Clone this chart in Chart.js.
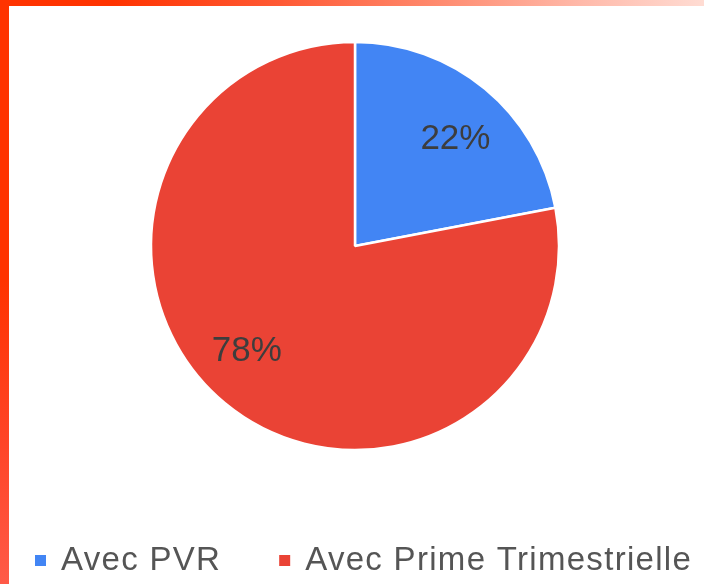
<!DOCTYPE html>
<html>
<head>
<meta charset="utf-8">
<script src="https://cdn.jsdelivr.net/npm/chart.js@4"></script>
<style>
  html, body { margin: 0; padding: 0; background: #ffffff; }
  body { width: 704px; height: 584px; position: relative; overflow: hidden; }
  #topbar { position: absolute; left: 0; top: 0; width: 704px; height: 6px;
    background: linear-gradient(to right, #ff3300 0%, #ff3300 16%, #ff5a35 40%, #ff8a6e 62%, #ffb8a8 82%, #ffdcd3 100%); }
  #leftbar { position: absolute; left: 0; top: 0; width: 9px; height: 584px;
    background: linear-gradient(to bottom, #ff3300 0%, #ff3300 48%, #ff4426 75%, #ff5a48 100%); }
  #wrap { position: absolute; left: 0; top: 0; width: 704px; height: 584px; }
</style>
</head>
<body>
<div id="topbar"></div>
<div id="leftbar"></div>
<div id="wrap"><canvas id="c" width="704" height="584"></canvas></div>
<script>
const categories = ['Avec PVR', 'Avec Prime Trimestrielle'];
const values = [22, 78];
const sliceColors = ['#4285f4', '#ea4335'];

const FONT = '"Liberation Sans", Arial, Helvetica, sans-serif';

const sliceLabels = {
  id: 'sliceLabels',
  afterDatasetsDraw(chart, args, opts) {
    const ctx = chart.ctx;
    const meta = chart.getDatasetMeta(0);
    const data = chart.data.datasets[0].data;
    const total = data.reduce((a, b) => a + b, 0);
    ctx.save();
    ctx.font = opts.size + 'px ' + FONT;
    ctx.fillStyle = opts.color;
    ctx.textAlign = 'center';
    ctx.textBaseline = 'alphabetic';
    meta.data.forEach((arc, i) => {
      const p = arc.getProps(['x', 'y', 'startAngle', 'endAngle', 'outerRadius'], true);
      const mid = (p.startAngle + p.endAngle) / 2 + (opts.angleNudge[i] || 0) * Math.PI / 180;
      const r = p.outerRadius * opts.radiusFraction;
      const cx = p.x + Math.cos(mid) * r;
      const cy = p.y + Math.sin(mid) * r;
      const txt = Math.round(data[i] / total * 100) + '%';
      ctx.fillText(txt, cx, cy + opts.size * 0.358);
    });
    ctx.restore();
  }
};

const bottomLegend = {
  id: 'bottomLegend',
  afterDraw(chart, args, opts) {
    const ctx = chart.ctx;
    const labels = chart.data.labels;
    const colors = chart.data.datasets[0].backgroundColor;
    ctx.save();
    ctx.font = opts.size + 'px ' + FONT;
    ctx.textBaseline = 'alphabetic';
    ctx.textAlign = 'left';
    if ('letterSpacing' in ctx) ctx.letterSpacing = opts.letterSpacing + 'px';
    let x = opts.left;
    labels.forEach((lab, i) => {
      ctx.fillStyle = colors[i];
      ctx.fillRect(x, opts.baseline - opts.boxOffset, opts.box, opts.box);
      x += opts.box + opts.boxGap;
      ctx.fillStyle = opts.color;
      ctx.fillText(lab, x, opts.baseline);
      x += ctx.measureText(lab).width + opts.itemGap;
    });
    ctx.restore();
  }
};

new Chart(document.getElementById('c'), {
  type: 'pie',
  data: {
    labels: categories,
    datasets: [{
      data: values,
      backgroundColor: sliceColors,
      borderColor: '#ffffff',
      borderWidth: 2.5,
      hoverOffset: 0
    }]
  },
  options: {
    responsive: false,
    animation: false,
    events: [],
    radius: 204,
    layout: { padding: { top: 44, bottom: 136, left: 6, right: 0 } },
    plugins: {
      legend: { display: false },
      tooltip: { enabled: false },
      sliceLabels: { size: 35, color: '#3d3d3d', radiusFraction: 0.73, angleNudge: [2.8, 7] },
      bottomLegend: { size: 33, letterSpacing: 1.3, color: '#555555', left: 35, baseline: 570, box: 11, boxOffset: 15, boxGap: 15, itemGap: 58 }
    }
  },
  plugins: [sliceLabels, bottomLegend]
});
</script>
</body>
</html>
